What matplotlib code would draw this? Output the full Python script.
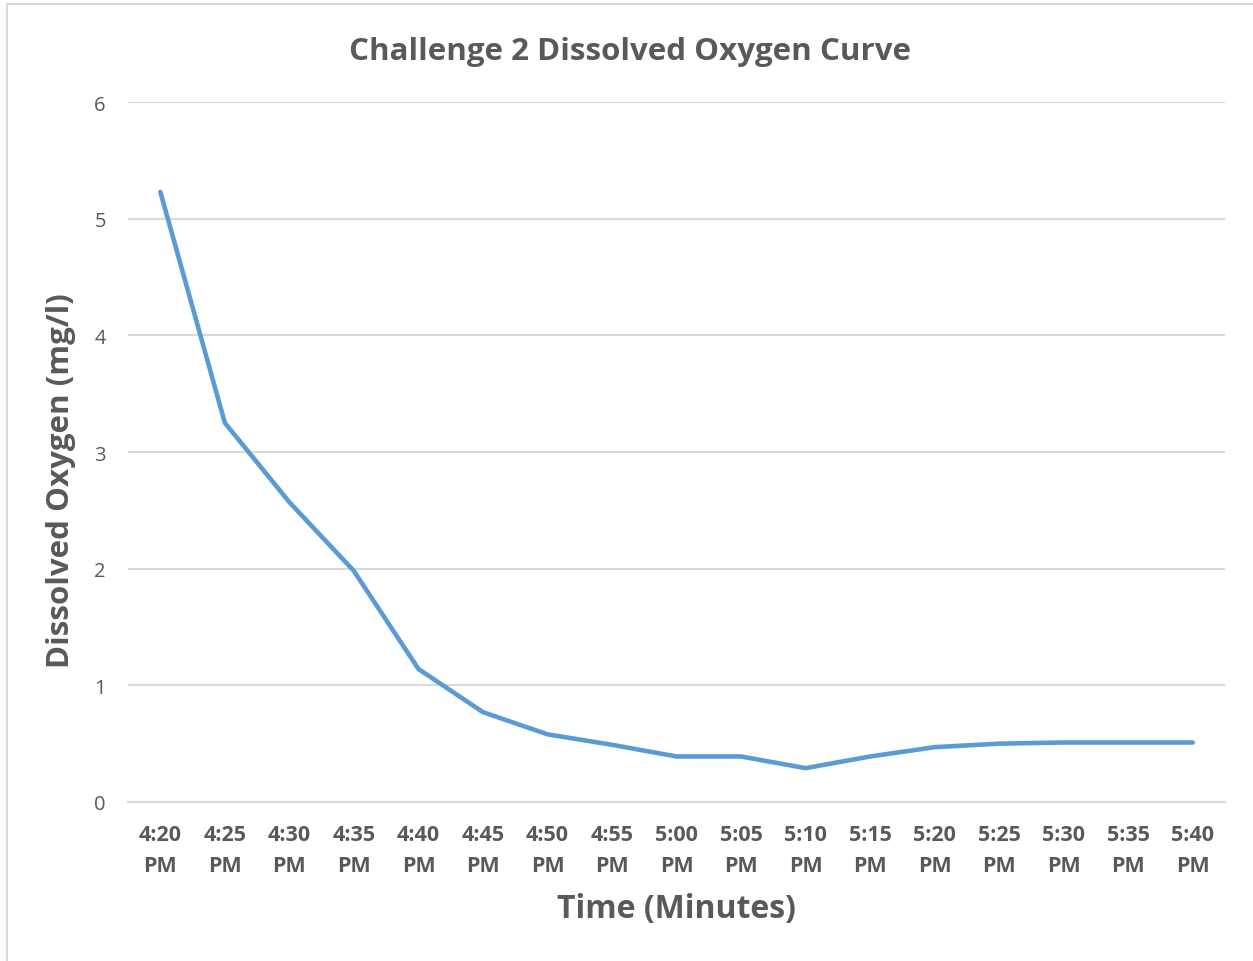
import matplotlib.pyplot as plt
from matplotlib.patches import Rectangle

# Sample times and dissolved oxygen readings (mg/l)
times = ["4:20\nPM", "4:25\nPM", "4:30\nPM", "4:35\nPM", "4:40\nPM", "4:45\nPM",
         "4:50\nPM", "4:55\nPM", "5:00\nPM", "5:05\nPM", "5:10\nPM", "5:15\nPM",
         "5:20\nPM", "5:25\nPM", "5:30\nPM", "5:35\nPM", "5:40\nPM"]
oxygen = [5.23, 3.25, 2.57, 1.98, 1.14, 0.77, 0.58, 0.49, 0.39, 0.39,
          0.29, 0.39, 0.47, 0.50, 0.51, 0.51, 0.51]
y_ticks = [0, 1, 2, 3, 4, 5, 6]

text_gray = "#595959"
line_blue = "#5B9BD5"

fig = plt.figure(figsize=(12.53, 9.62), dpi=100)
ax = fig.add_axes([0.1022, 0.1653, 0.8755, 0.7276])

# Chart frame
fig.patches.append(Rectangle((0.0055, -0.05), 1.1, 1.045, transform=fig.transFigure,
                             fill=False, edgecolor="#D9D9D9", linewidth=1.5))

x = list(range(len(times)))
ax.plot(x, oxygen, color=line_blue, linewidth=3.3, solid_capstyle="round",
        solid_joinstyle="round", zorder=3)

ax.set_xlim(-0.5, len(times) - 0.5)
ax.set_ylim(0, 6)
ax.set_yticks(y_ticks)
ax.set_xticks(x)
ax.set_xticklabels(times, fontsize=15.5, fontweight="bold", color=text_gray,
                   family="Open Sans", linespacing=1.6)
ax.set_yticklabels([str(t) for t in y_ticks], fontsize=14.5, color=text_gray,
                   family="Open Sans")
ax.tick_params(axis="both", length=0)
ax.tick_params(axis="x", pad=16)
ax.tick_params(axis="y", pad=16)

ax.grid(axis="y", color="#D9D9D9", linewidth=1.5)
ax.set_axisbelow(True)
for side in ["top", "right", "left"]:
    ax.spines[side].set_visible(False)
ax.spines["bottom"].set_color("#D9D9D9")
ax.spines["bottom"].set_linewidth(1.5)

fig.text(0.503, 0.946, "Challenge 2 Dissolved Oxygen Curve", fontsize=22.5,
         fontweight="bold", color=text_gray, family="Open Sans",
         ha="center", va="center")
ax.set_xlabel("Time (Minutes)", fontsize=23, fontweight="bold", color=text_gray,
              family="Open Sans", labelpad=12)
ax.set_ylabel("Dissolved Oxygen (mg/l)", fontsize=22.5, fontweight="bold",
              color=text_gray, family="Open Sans")
ax.yaxis.set_label_coords(-0.047, 0.461)

fig.savefig("out.png", dpi=100, facecolor="white")
